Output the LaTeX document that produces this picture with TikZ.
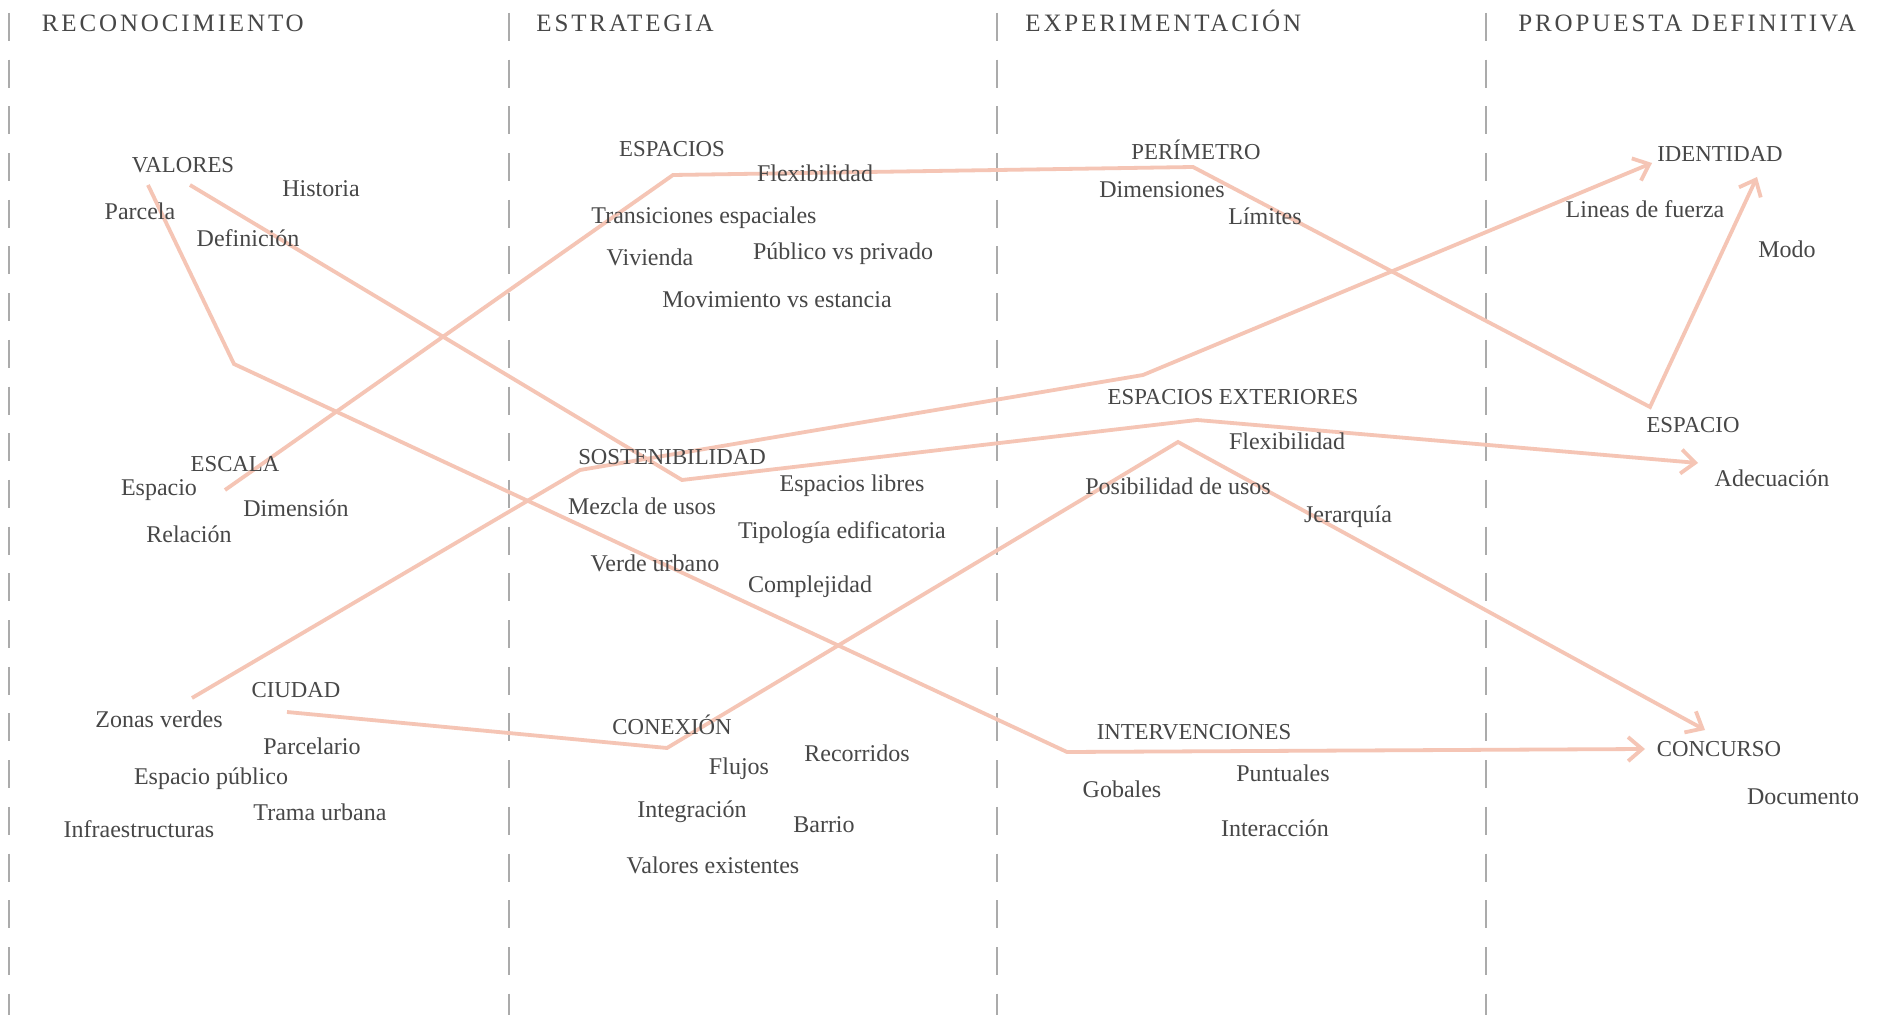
\documentclass[tikz,border=0pt]{standalone}
\usepackage{fontspec}
\setmainfont{Liberation Serif}
\newfontfamily\headfont[LetterSpace=11.5]{Liberation Serif}
\usetikzlibrary{arrows.meta}
\definecolor{txt}{HTML}{474747}
\definecolor{salmon}{HTML}{F5C5B5}
\definecolor{dashgray}{HTML}{ABABAB}
\begin{document}
\begin{tikzpicture}[x=0.5pt,y=-0.5pt,
  lbl/.style={anchor=base, inner sep=0pt, text=txt, font=\fontsize{12}{14}\selectfont},
  capl/.style={anchor=base, inner sep=0pt, text=txt, font=\fontsize{11.4}{13}\selectfont},
  hdr/.style={anchor=base west, inner sep=0pt, text=txt, font=\headfont\fontsize{12.5}{14}\selectfont},
  conn/.style={draw=salmon, line width=1.9pt},
  arr/.style={conn, -{Straight Barb[length=7pt,width=12pt]}},
  divider/.style={draw=dashgray, line width=1.1pt, dash pattern=on 14pt off 9.35pt},
]
\fill[white] (0,0) rectangle (1881,1015);
\useasboundingbox (0,0) rectangle (1881,1015);

% column dividers
\draw[divider] (9,13) -- (9,1015);
\draw[divider] (509,13) -- (509,1015);
\draw[divider] (997,13) -- (997,1015);
\draw[divider] (1486,13) -- (1486,1015);

% headers
\node[hdr] (h1) at (41.5,32) {RECONOCIMIENTO};
\node[hdr] (h2) at (536,32) {ESTRATEGIA};
\node[hdr] (h3) at (1025,32) {EXPERIMENTACIÓN};
\node[hdr] (h4) at (1518,32) {PROPUESTA DEFINITIVA};

% connector points
\coordinate (a1) at (148,185);
\coordinate (a2) at (234,364);
\coordinate (a3) at (1067,752);
\coordinate (a4) at (1645,749);
\coordinate (b1) at (190,185);
\coordinate (b2) at (682,480);
\coordinate (b3) at (1197,420);
\coordinate (b4) at (1698,463);
\coordinate (c1) at (192,698);
\coordinate (c2) at (580,470);
\coordinate (c3) at (1143,375);
\coordinate (c4) at (1652,163);
\coordinate (d1) at (225,490);
\coordinate (d2) at (673,175);
\coordinate (d3) at (1193,167);
\coordinate (d4) at (1650,407);
\coordinate (d5) at (1757,177);
\coordinate (e1) at (287,712);
\coordinate (e2) at (667,748);
\coordinate (e3) at (1178,442);
\coordinate (e4) at (1705,730);

\draw[arr] (a1) -- (a2) -- (a3) -- (a4);
\draw[arr] (b1) -- (b2) -- (b3) -- (b4);
\draw[arr] (c1) -- (c2) -- (c3) -- (c4);
\draw[arr] (d1) -- (d2) -- (d3) -- (d4) -- (d5);
\draw[arr] (e1) -- (e2) -- (e3) -- (e4);

% column 1
\node[capl] (valores) at (183,173) {VALORES};
\node[lbl] (historia) at (321,197) {Historia};
\node[lbl] (parcela) at (140,220) {Parcela};
\node[lbl] (definicion) at (248,247) {Definición};
\node[capl] (escala) at (235,472) {ESCALA};
\node[lbl] (espacioa) at (159,496) {Espacio};
\node[lbl] (dimension) at (296,517) {Dimensión};
\node[lbl] (relacion) at (189,543) {Relación};
\node[capl] (ciudad) at (296,698) {CIUDAD};
\node[lbl] (zonas) at (159,728) {Zonas verdes};
\node[lbl] (parcelario) at (312,755) {Parcelario};
\node[lbl] (esppub) at (211,785) {Espacio público};
\node[lbl] (trama) at (320,820) {Trama urbana};
\node[lbl] (infra) at (139,838) {Infraestructuras};

% column 2
\node[capl] (espacios) at (672,157) {ESPACIOS};
\node[lbl] (flexa) at (815,182) {Flexibilidad};
\node[lbl] (trans) at (704,224) {Transiciones espaciales};
\node[lbl] (vivienda) at (650,266) {Vivienda};
\node[lbl] (publico) at (843,260) {Público vs privado};
\node[lbl] (movim) at (777,308) {Movimiento vs estancia};
\node[capl] (sost) at (672,465) {SOSTENIBILIDAD};
\node[lbl] (esplib) at (852,492) {Espacios libres};
\node[lbl] (mezcla) at (642,515) {Mezcla de usos};
\node[lbl] (tipol) at (842,539) {Tipología edificatoria};
\node[lbl] (verde) at (655,572) {Verde urbano};
\node[lbl] (complej) at (810,593) {Complejidad};
\node[capl] (conexion) at (672,735) {CONEXIÓN};
\node[lbl] (recorr) at (857,762) {Recorridos};
\node[lbl] (flujos) at (739,775) {Flujos};
\node[lbl] (integr) at (692,818) {Integración};
\node[lbl] (barrio) at (824,833) {Barrio};
\node[lbl] (valex) at (713,873) {Valores existentes};

% column 3
\node[capl] (perim) at (1196,160) {PERÍMETRO};
\node[lbl] (dimens) at (1162,198) {Dimensiones};
\node[lbl] (limites) at (1265,225) {Límites};
\node[capl] (espext) at (1233,405) {ESPACIOS EXTERIORES};
\node[lbl] (flexb) at (1287,450) {Flexibilidad};
\node[lbl] (posib) at (1178,495) {Posibilidad de usos};
\node[lbl] (jerarq) at (1348,523) {Jerarquía};
\node[capl] (interv) at (1194,740) {INTERVENCIONES};
\node[lbl] (puntuales) at (1283,782) {Puntuales};
\node[lbl] (gobales) at (1122,798) {Gobales};
\node[lbl] (interac) at (1275,837) {Interacción};

% column 4
\node[capl] (identidad) at (1720,162) {IDENTIDAD};
\node[lbl] (lineas) at (1645,218) {Lineas de fuerza};
\node[lbl] (modo) at (1787,258) {Modo};
\node[capl] (espaciob) at (1693,433) {ESPACIO};
\node[lbl] (adecuacion) at (1772,487) {Adecuación};
\node[capl] (concurso) at (1719,757) {CONCURSO};
\node[lbl] (documento) at (1803,805) {Documento};
\end{tikzpicture}
\end{document}
